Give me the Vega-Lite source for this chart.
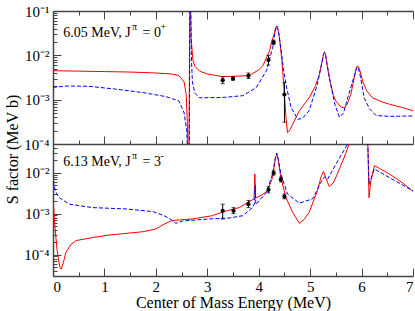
{
  "$schema": "https://vega.github.io/schema/vega-lite/v6.json",
  "padding": {"left": 3, "top": 4, "right": 5, "bottom": 2},
  "spacing": 0,
  "bounds": "flush",
  "config": {
    "font": "Liberation Serif",
    "view": {"stroke": null},
    "axis": {
      "grid": false,
      "domainColor": "#444",
      "domainWidth": 1.5,
      "tickColor": "#444",
      "tickWidth": 1,
      "labelFont": "Liberation Serif",
      "labelFontSize": 15,
      "labelColor": "black",
      "labelOverlap": false,
      "titleFont": "Liberation Serif",
      "titleFontSize": 16,
      "titleFontWeight": "normal",
      "titleColor": "black"
    },
    "text": {"font": "Liberation Serif"}
  },
  "datasets": {
    "curves": [
      {"p":"top","s":"red","E":0,"S":0.0045},{"p":"top","s":"red","E":0.5,"S":0.0044},{"p":"top","s":"red","E":1.0,"S":0.0043},{"p":"top","s":"red","E":1.5,"S":0.0042},{"p":"top","s":"red","E":2.0,"S":0.0040},{"p":"top","s":"red","E":2.3,"S":0.0038},{"p":"top","s":"red","E":2.45,"S":0.0035},{"p":"top","s":"red","E":2.55,"S":0.0025},{"p":"top","s":"red","E":2.59,"S":0.0013},{"p":"top","s":"red","E":2.615,"S":0.00025},{"p":"top","s":"red","E":2.64,"S":0.00001},{"p":"top","s":"red","E":2.665,"S":1},{"p":"top","s":"red","E":2.685,"S":0.025},{"p":"top","s":"red","E":2.72,"S":0.0079},{"p":"top","s":"red","E":2.76,"S":0.0056},{"p":"top","s":"red","E":2.85,"S":0.0044},{"p":"top","s":"red","E":3.0,"S":0.0038},{"p":"top","s":"red","E":3.3,"S":0.0033},{"p":"top","s":"red","E":3.6,"S":0.0034},{"p":"top","s":"red","E":3.82,"S":0.0035},{"p":"top","s":"red","E":4.0,"S":0.0047},{"p":"top","s":"red","E":4.08,"S":0.0058},{"p":"top","s":"red","E":4.21,"S":0.0126},{"p":"top","s":"red","E":4.25,"S":0.02},{"p":"top","s":"red","E":4.30,"S":0.030},{"p":"top","s":"red","E":4.33,"S":0.042},{"p":"top","s":"red","E":4.35,"S":0.046},{"p":"top","s":"red","E":4.37,"S":0.041},{"p":"top","s":"red","E":4.39,"S":0.03},{"p":"top","s":"red","E":4.41,"S":0.021},{"p":"top","s":"red","E":4.45,"S":0.0079},{"p":"top","s":"red","E":4.50,"S":0.0013},{"p":"top","s":"red","E":4.53,"S":0.0004},{"p":"top","s":"red","E":4.56,"S":0.00018},{"p":"top","s":"red","E":4.6,"S":0.0002},{"p":"top","s":"red","E":4.66,"S":0.00028},{"p":"top","s":"red","E":4.79,"S":0.00056},{"p":"top","s":"red","E":4.98,"S":0.0011},{"p":"top","s":"red","E":5.1,"S":0.002},{"p":"top","s":"red","E":5.18,"S":0.0037},{"p":"top","s":"red","E":5.24,"S":0.0079},{"p":"top","s":"red","E":5.26,"S":0.0105},{"p":"top","s":"red","E":5.28,"S":0.012},{"p":"top","s":"red","E":5.30,"S":0.0102},{"p":"top","s":"red","E":5.32,"S":0.0071},{"p":"top","s":"red","E":5.37,"S":0.0032},{"p":"top","s":"red","E":5.45,"S":0.00126},{"p":"top","s":"red","E":5.5,"S":0.00093},{"p":"top","s":"red","E":5.6,"S":0.00068},{"p":"top","s":"red","E":5.66,"S":0.00065},{"p":"top","s":"red","E":5.72,"S":0.00079},{"p":"top","s":"red","E":5.79,"S":0.0013},{"p":"top","s":"red","E":5.86,"S":0.0032},{"p":"top","s":"red","E":5.9,"S":0.0052},{"p":"top","s":"red","E":5.92,"S":0.0058},{"p":"top","s":"red","E":5.94,"S":0.0055},{"p":"top","s":"red","E":5.97,"S":0.0045},{"p":"top","s":"red","E":6.02,"S":0.0026},{"p":"top","s":"red","E":6.1,"S":0.0016},{"p":"top","s":"red","E":6.21,"S":0.0011},{"p":"top","s":"red","E":6.4,"S":0.00089},{"p":"top","s":"red","E":6.54,"S":0.00079},{"p":"top","s":"red","E":6.8,"S":0.00066},{"p":"top","s":"red","E":7.0,"S":0.00056},

      {"p":"top","s":"blue","E":0,"S":0.0019},{"p":"top","s":"blue","E":0.3,"S":0.00204},{"p":"top","s":"blue","E":0.7,"S":0.0020},{"p":"top","s":"blue","E":1.2,"S":0.00174},{"p":"top","s":"blue","E":1.74,"S":0.00145},{"p":"top","s":"blue","E":2.2,"S":0.00117},{"p":"top","s":"blue","E":2.45,"S":0.00093},{"p":"top","s":"blue","E":2.55,"S":0.0005},{"p":"top","s":"blue","E":2.6,"S":0.0002},{"p":"top","s":"blue","E":2.645,"S":0.00001},{"p":"top","s":"blue","E":2.667,"S":1},{"p":"top","s":"blue","E":2.69,"S":0.01},{"p":"top","s":"blue","E":2.71,"S":0.0025},{"p":"top","s":"blue","E":2.76,"S":0.0014},{"p":"top","s":"blue","E":2.85,"S":0.0011},{"p":"top","s":"blue","E":3.3,"S":0.00112},{"p":"top","s":"blue","E":3.69,"S":0.00123},{"p":"top","s":"blue","E":3.95,"S":0.00186},{"p":"top","s":"blue","E":4.15,"S":0.0045},{"p":"top","s":"blue","E":4.27,"S":0.0148},{"p":"top","s":"blue","E":4.32,"S":0.035},{"p":"top","s":"blue","E":4.35,"S":0.046},{"p":"top","s":"blue","E":4.37,"S":0.04},{"p":"top","s":"blue","E":4.39,"S":0.032},{"p":"top","s":"blue","E":4.43,"S":0.0148},{"p":"top","s":"blue","E":4.48,"S":0.005},{"p":"top","s":"blue","E":4.53,"S":0.0022},{"p":"top","s":"blue","E":4.63,"S":0.00066},{"p":"top","s":"blue","E":4.76,"S":0.00036},{"p":"top","s":"blue","E":4.85,"S":0.00038},{"p":"top","s":"blue","E":4.98,"S":0.00056},{"p":"top","s":"blue","E":5.14,"S":0.0022},{"p":"top","s":"blue","E":5.22,"S":0.0063},{"p":"top","s":"blue","E":5.26,"S":0.0105},{"p":"top","s":"blue","E":5.28,"S":0.0115},{"p":"top","s":"blue","E":5.30,"S":0.0100},{"p":"top","s":"blue","E":5.33,"S":0.0063},{"p":"top","s":"blue","E":5.40,"S":0.0022},{"p":"top","s":"blue","E":5.48,"S":0.00079},{"p":"top","s":"blue","E":5.57,"S":0.0004},{"p":"top","s":"blue","E":5.65,"S":0.0005},{"p":"top","s":"blue","E":5.73,"S":0.0011},{"p":"top","s":"blue","E":5.85,"S":0.0032},{"p":"top","s":"blue","E":5.9,"S":0.0051},{"p":"top","s":"blue","E":5.92,"S":0.0055},{"p":"top","s":"blue","E":5.94,"S":0.0050},{"p":"top","s":"blue","E":5.98,"S":0.0032},{"p":"top","s":"blue","E":6.05,"S":0.0011},{"p":"top","s":"blue","E":6.15,"S":0.00063},{"p":"top","s":"blue","E":6.28,"S":0.00044},{"p":"top","s":"blue","E":6.54,"S":0.00042},{"p":"top","s":"blue","E":7.0,"S":0.00043},

      {"p":"bot","s":"red","E":0,"S":0.0025},{"p":"bot","s":"red","E":0.03,"S":0.00063},{"p":"bot","s":"red","E":0.08,"S":0.000126},{"p":"bot","s":"red","E":0.13,"S":0.00005},{"p":"bot","s":"red","E":0.16,"S":0.000044},{"p":"bot","s":"red","E":0.2,"S":0.000063},{"p":"bot","s":"red","E":0.25,"S":0.000112},{"p":"bot","s":"red","E":0.35,"S":0.000178},{"p":"bot","s":"red","E":0.45,"S":0.00022},{"p":"bot","s":"red","E":0.77,"S":0.00026},{"p":"bot","s":"red","E":1.09,"S":0.0003},{"p":"bot","s":"red","E":1.74,"S":0.00036},{"p":"bot","s":"red","E":2.0,"S":0.00042},{"p":"bot","s":"red","E":2.16,"S":0.00055},{"p":"bot","s":"red","E":2.29,"S":0.00066},{"p":"bot","s":"red","E":2.39,"S":0.00069},{"p":"bot","s":"red","E":2.71,"S":0.00074},{"p":"bot","s":"red","E":3.1,"S":0.00089},{"p":"bot","s":"red","E":3.3,"S":0.0011},{"p":"bot","s":"red","E":3.62,"S":0.0014},{"p":"bot","s":"red","E":3.91,"S":0.0023},{"p":"bot","s":"red","E":3.925,"S":0.0093},{"p":"bot","s":"red","E":3.94,"S":0.0024},{"p":"bot","s":"red","E":4.05,"S":0.0028},{"p":"bot","s":"red","E":4.17,"S":0.0036},{"p":"bot","s":"red","E":4.27,"S":0.0076},{"p":"bot","s":"red","E":4.32,"S":0.02},{"p":"bot","s":"red","E":4.35,"S":0.029},{"p":"bot","s":"red","E":4.38,"S":0.02},{"p":"bot","s":"red","E":4.43,"S":0.0076},{"p":"bot","s":"red","E":4.53,"S":0.00245},{"p":"bot","s":"red","E":4.66,"S":0.00107},{"p":"bot","s":"red","E":4.79,"S":0.00058},{"p":"bot","s":"red","E":4.88,"S":0.00071},{"p":"bot","s":"red","E":4.98,"S":0.00107},{"p":"bot","s":"red","E":5.14,"S":0.0036},{"p":"bot","s":"red","E":5.22,"S":0.0085},{"p":"bot","s":"red","E":5.26,"S":0.0107},{"p":"bot","s":"red","E":5.31,"S":0.0071},{"p":"bot","s":"red","E":5.37,"S":0.0046},{"p":"bot","s":"red","E":5.45,"S":0.0056},{"p":"bot","s":"red","E":5.53,"S":0.0093},{"p":"bot","s":"red","E":5.69,"S":0.029},{"p":"bot","s":"red","E":5.76,"S":0.05},{"p":"bot","s":"red","E":5.85,"S":0.16},{"p":"bot","s":"red","E":5.95,"S":0.32},{"p":"bot","s":"red","E":6.05,"S":0.15},{"p":"bot","s":"red","E":6.11,"S":0.08},{"p":"bot","s":"red","E":6.12,"S":0.06},{"p":"bot","s":"red","E":6.145,"S":0.00245},{"p":"bot","s":"red","E":6.18,"S":0.0063},{"p":"bot","s":"red","E":6.25,"S":0.0148},{"p":"bot","s":"red","E":6.35,"S":0.0126},{"p":"bot","s":"red","E":6.54,"S":0.0093},{"p":"bot","s":"red","E":6.8,"S":0.0056},{"p":"bot","s":"red","E":7.0,"S":0.0035},

      {"p":"bot","s":"blue","E":0,"S":0.0063},{"p":"bot","s":"blue","E":0.05,"S":0.0035},{"p":"bot","s":"blue","E":0.12,"S":0.00245},{"p":"bot","s":"blue","E":0.32,"S":0.0017},{"p":"bot","s":"blue","E":0.77,"S":0.0014},{"p":"bot","s":"blue","E":1.42,"S":0.0013},{"p":"bot","s":"blue","E":1.94,"S":0.00112},{"p":"bot","s":"blue","E":2.16,"S":0.00089},{"p":"bot","s":"blue","E":2.3,"S":0.00071},{"p":"bot","s":"blue","E":2.39,"S":0.00058},{"p":"bot","s":"blue","E":2.52,"S":0.00066},{"p":"bot","s":"blue","E":3.04,"S":0.00074},{"p":"bot","s":"blue","E":3.43,"S":0.00078},{"p":"bot","s":"blue","E":3.69,"S":0.00089},{"p":"bot","s":"blue","E":3.88,"S":0.0014},{"p":"bot","s":"blue","E":3.92,"S":0.0018},{"p":"bot","s":"blue","E":3.93,"S":0.005},{"p":"bot","s":"blue","E":3.945,"S":0.00166},{"p":"bot","s":"blue","E":4.15,"S":0.0033},{"p":"bot","s":"blue","E":4.27,"S":0.0093},{"p":"bot","s":"blue","E":4.32,"S":0.022},{"p":"bot","s":"blue","E":4.35,"S":0.03},{"p":"bot","s":"blue","E":4.38,"S":0.022},{"p":"bot","s":"blue","E":4.43,"S":0.0093},{"p":"bot","s":"blue","E":4.56,"S":0.003},{"p":"bot","s":"blue","E":4.79,"S":0.0018},{"p":"bot","s":"blue","E":5.05,"S":0.0023},{"p":"bot","s":"blue","E":5.2,"S":0.0055},{"p":"bot","s":"blue","E":5.28,"S":0.0079},{"p":"bot","s":"blue","E":5.34,"S":0.0069},{"p":"bot","s":"blue","E":5.5,"S":0.016},{"p":"bot","s":"blue","E":5.73,"S":0.05},{"p":"bot","s":"blue","E":5.85,"S":0.16},{"p":"bot","s":"blue","E":5.95,"S":0.32},{"p":"bot","s":"blue","E":6.05,"S":0.15},{"p":"bot","s":"blue","E":6.11,"S":0.08},{"p":"bot","s":"blue","E":6.12,"S":0.06},{"p":"bot","s":"blue","E":6.145,"S":0.0052},{"p":"bot","s":"blue","E":6.25,"S":0.0123},{"p":"bot","s":"blue","E":6.54,"S":0.0076},{"p":"bot","s":"blue","E":7.0,"S":0.0036}
    ],
    "pts": [
      {"p":"top","E":3.30,"S":0.00275,"lo":0.0023,"hi":0.0033},
      {"p":"top","E":3.50,"S":0.0030,"lo":0.00275,"hi":0.0033},
      {"p":"top","E":3.80,"S":0.00345,"lo":0.0030,"hi":0.0040},
      {"p":"top","E":4.19,"S":0.0078,"lo":0.0060,"hi":0.0100},
      {"p":"top","E":4.29,"S":0.0195,"lo":0.0174,"hi":0.022},
      {"p":"top","E":4.50,"S":0.0013,"lo":0.00031,"hi":0.00245},
      {"p":"bot","E":3.30,"S":0.00117,"lo":0.00074,"hi":0.0017},
      {"p":"bot","E":3.51,"S":0.00117,"lo":0.0010,"hi":0.0014},
      {"p":"bot","E":3.80,"S":0.0017,"lo":0.0014,"hi":0.0021},
      {"p":"bot","E":4.19,"S":0.0038,"lo":0.0032,"hi":0.0045},
      {"p":"bot","E":4.29,"S":0.0098,"lo":0.0087,"hi":0.011},
      {"p":"bot","E":4.43,"S":0.0068,"lo":0.0059,"hi":0.0078},
      {"p":"bot","E":4.50,"S":0.0026,"lo":0.0023,"hi":0.0030}
    ],
    "txt": [
      {"p":"top","k":"main","E":0.2,"S":0.026,"t":"6.05 MeV, J"},
      {"p":"top","k":"sup","E":1.534,"S":0.0374,"t":"π"},
      {"p":"top","k":"main","E":1.742,"S":0.026,"t":"= 0"},
      {"p":"top","k":"sup","E":2.092,"S":0.0374,"t":"+"},
      {"p":"bot","k":"main","E":0.2,"S":0.0148,"t":"6.13 MeV, J"},
      {"p":"bot","k":"sup","E":1.534,"S":0.0219,"t":"π"},
      {"p":"bot","k":"main","E":1.742,"S":0.0148,"t":"= 3"},
      {"p":"bot","k":"sup","E":2.092,"S":0.0219,"t":"-"}
    ]
  },
  "vconcat": [
    {
      "width": 360,
      "height": 133,
      "resolve": {"axis": {"x": "independent", "y": "independent"}},
      "layer": [
        {
          "data": {"name": "curves"},
          "transform": [{"filter": "datum.p == 'top' && datum.s == 'red'"}],
          "mark": {"type": "line", "clip": true, "color": "#ff0000", "strokeWidth": 1},
          "encoding": {
            "x": {"field": "E", "type": "quantitative", "scale": {"domain": [0, 7], "nice": false, "zero": false},
                  "axis": {"orient": "bottom", "title": null, "values": [0,0.5,1,1.5,2,2.5,3,3.5,4,4.5,5,5.5,6,6.5,7], "labels": false,
                           "tickSize": {"condition": {"test": "datum.value % 1 == 0", "value": -8}, "value": -4}}},
            "y": {"field": "S", "type": "quantitative", "scale": {"type": "log", "domain": [0.0001, 0.1], "nice": false},
                  "axis": {"orient": "left", "title": null,
                           "values": [0.0001,0.0002,0.0003,0.0004,0.0005,0.0006,0.0007,0.0008,0.0009,0.001,0.002,0.003,0.004,0.005,0.006,0.007,0.008,0.009,0.01,0.02,0.03,0.04,0.05,0.06,0.07,0.08,0.09,0.1],
                           "labelExpr": "abs(log(datum.value)/LN10 - round(log(datum.value)/LN10)) < 0.001 ? '10' + ['', '⁻¹', '⁻²', '⁻³', '⁻⁴', '⁻⁵'][-round(log(datum.value)/LN10)] : ''",
                           "labelPadding": 12,
                           "tickSize": {"condition": {"test": "abs(log(datum.value)/LN10 - round(log(datum.value)/LN10)) < 0.001", "value": -8}, "value": -4}}}
          }
        },
        {
          "data": {"name": "curves"},
          "transform": [{"filter": "datum.p == 'top' && datum.s == 'blue'"}],
          "mark": {"type": "line", "clip": true, "color": "#0000ff", "strokeWidth": 1, "strokeDash": [4, 2]},
          "encoding": {
            "x": {"field": "E", "type": "quantitative", "axis": null},
            "y": {"field": "S", "type": "quantitative", "axis": null}
          }
        },
        {
          "data": {"name": "txt"},
          "transform": [{"filter": "datum.p == 'top' && datum.k == 'main'"}],
          "mark": {"type": "text", "align": "left", "baseline": "alphabetic", "fontSize": 14, "font": "Liberation Serif", "color": "black"},
          "encoding": {
            "x": {"field": "E", "type": "quantitative",
                  "axis": {"orient": "top", "title": null, "values": [0,0.5,1,1.5,2,2.5,3,3.5,4,4.5,5,5.5,6,6.5,7], "labels": false,
                           "tickSize": {"condition": {"test": "datum.value % 1 == 0", "value": -8}, "value": -4}}},
            "y": {"field": "S", "type": "quantitative", "axis": null},
            "text": {"field": "t"}
          }
        },
        {
          "data": {"name": "txt"},
          "transform": [{"filter": "datum.p == 'top' && datum.k == 'sup'"}],
          "mark": {"type": "text", "align": "left", "baseline": "alphabetic", "fontSize": 10, "font": "Liberation Serif", "color": "black"},
          "encoding": {
            "x": {"field": "E", "type": "quantitative", "axis": null},
            "y": {"field": "S", "type": "quantitative", "axis": null},
            "text": {"field": "t"}
          }
        },
        {
          "data": {"name": "pts"},
          "transform": [{"filter": "datum.p == 'top'"}],
          "mark": {"type": "rule", "color": "black", "strokeWidth": 1},
          "encoding": {
            "x": {"field": "E", "type": "quantitative", "axis": null},
            "y": {"field": "lo", "type": "quantitative", "axis": null},
            "y2": {"field": "hi"}
          }
        },
        {
          "data": {"name": "pts"},
          "transform": [{"filter": "datum.p == 'top'"}],
          "mark": {"type": "tick", "orient": "horizontal", "color": "black", "size": 4, "thickness": 1},
          "encoding": {
            "x": {"field": "E", "type": "quantitative", "axis": null},
            "y": {"field": "hi", "type": "quantitative", "axis": null}
          }
        },
        {
          "data": {"name": "pts"},
          "transform": [{"filter": "datum.p == 'top'"}],
          "mark": {"type": "tick", "orient": "horizontal", "color": "black", "size": 4, "thickness": 1},
          "encoding": {
            "x": {"field": "E", "type": "quantitative", "axis": null},
            "y": {"field": "lo", "type": "quantitative", "axis": null}
          }
        },
        {
          "data": {"name": "pts"},
          "transform": [{"filter": "datum.p == 'top'"}],
          "mark": {"type": "circle", "color": "black", "size": 18, "opacity": 1},
          "encoding": {
            "x": {"field": "E", "type": "quantitative", "axis": null},
            "y": {"field": "S", "type": "quantitative", "axis": null}
          }
        }
      ]
    },
    {
      "width": 360,
      "height": 132,
      "resolve": {"axis": {"x": "independent", "y": "independent"}},
      "layer": [
        {
          "data": {"name": "curves"},
          "transform": [{"filter": "datum.p == 'bot' && datum.s == 'red'"}],
          "mark": {"type": "line", "clip": true, "color": "#ff0000", "strokeWidth": 1},
          "encoding": {
            "x": {"field": "E", "type": "quantitative", "scale": {"domain": [0, 7], "nice": false, "zero": false},
                  "axis": {"orient": "bottom", "title": "Center of Mass Energy (MeV)", "values": [0,0.5,1,1.5,2,2.5,3,3.5,4,4.5,5,5.5,6,6.5,7],
                           "labelExpr": "datum.value % 1 == 0 ? format(datum.value, 'd') : ''", "labelPadding": 11, "titleY": 18,
                           "tickSize": {"condition": {"test": "datum.value % 1 == 0", "value": -8}, "value": -4}}},
            "y": {"field": "S", "type": "quantitative", "scale": {"type": "log", "domain": [0.00003, 0.05], "nice": false},
                  "axis": {"orient": "left", "title": "S factor (MeV b)", "titleY": 5, "titleX": -33,
                           "values": [0.00003,0.00004,0.00005,0.00006,0.00007,0.00008,0.00009,0.0001,0.0002,0.0003,0.0004,0.0005,0.0006,0.0007,0.0008,0.0009,0.001,0.002,0.003,0.004,0.005,0.006,0.007,0.008,0.009,0.01,0.02,0.03,0.04,0.05],
                           "labelExpr": "abs(log(datum.value)/LN10 - round(log(datum.value)/LN10)) < 0.001 ? '10' + ['', '⁻¹', '⁻²', '⁻³', '⁻⁴', '⁻⁵'][-round(log(datum.value)/LN10)] : ''",
                           "labelPadding": 12,
                           "tickSize": {"condition": {"test": "abs(log(datum.value)/LN10 - round(log(datum.value)/LN10)) < 0.001", "value": -8}, "value": -4}}}
          }
        },
        {
          "data": {"name": "curves"},
          "transform": [{"filter": "datum.p == 'bot' && datum.s == 'blue'"}],
          "mark": {"type": "line", "clip": true, "color": "#0000ff", "strokeWidth": 1, "strokeDash": [4, 2]},
          "encoding": {
            "x": {"field": "E", "type": "quantitative", "axis": null},
            "y": {"field": "S", "type": "quantitative", "axis": null}
          }
        },
        {
          "data": {"name": "txt"},
          "transform": [{"filter": "datum.p == 'bot' && datum.k == 'main'"}],
          "mark": {"type": "text", "align": "left", "baseline": "alphabetic", "fontSize": 14, "font": "Liberation Serif", "color": "black"},
          "encoding": {
            "x": {"field": "E", "type": "quantitative", "axis": null},
            "y": {"field": "S", "type": "quantitative", "axis": null},
            "text": {"field": "t"}
          }
        },
        {
          "data": {"name": "txt"},
          "transform": [{"filter": "datum.p == 'bot' && datum.k == 'sup'"}],
          "mark": {"type": "text", "align": "left", "baseline": "alphabetic", "fontSize": 10, "font": "Liberation Serif", "color": "black"},
          "encoding": {
            "x": {"field": "E", "type": "quantitative", "axis": null},
            "y": {"field": "S", "type": "quantitative", "axis": null},
            "text": {"field": "t"}
          }
        },
        {
          "data": {"name": "pts"},
          "transform": [{"filter": "datum.p == 'bot'"}],
          "mark": {"type": "rule", "color": "black", "strokeWidth": 1},
          "encoding": {
            "x": {"field": "E", "type": "quantitative", "axis": null},
            "y": {"field": "lo", "type": "quantitative", "axis": null},
            "y2": {"field": "hi"}
          }
        },
        {
          "data": {"name": "pts"},
          "transform": [{"filter": "datum.p == 'bot'"}],
          "mark": {"type": "tick", "orient": "horizontal", "color": "black", "size": 4, "thickness": 1},
          "encoding": {
            "x": {"field": "E", "type": "quantitative", "axis": null},
            "y": {"field": "hi", "type": "quantitative", "axis": null}
          }
        },
        {
          "data": {"name": "pts"},
          "transform": [{"filter": "datum.p == 'bot'"}],
          "mark": {"type": "tick", "orient": "horizontal", "color": "black", "size": 4, "thickness": 1},
          "encoding": {
            "x": {"field": "E", "type": "quantitative", "axis": null},
            "y": {"field": "lo", "type": "quantitative", "axis": null}
          }
        },
        {
          "data": {"name": "pts"},
          "transform": [{"filter": "datum.p == 'bot'"}],
          "mark": {"type": "circle", "color": "black", "size": 18, "opacity": 1},
          "encoding": {
            "x": {"field": "E", "type": "quantitative", "axis": null},
            "y": {"field": "S", "type": "quantitative", "axis": null}
          }
        }
      ]
    }
  ]
}
